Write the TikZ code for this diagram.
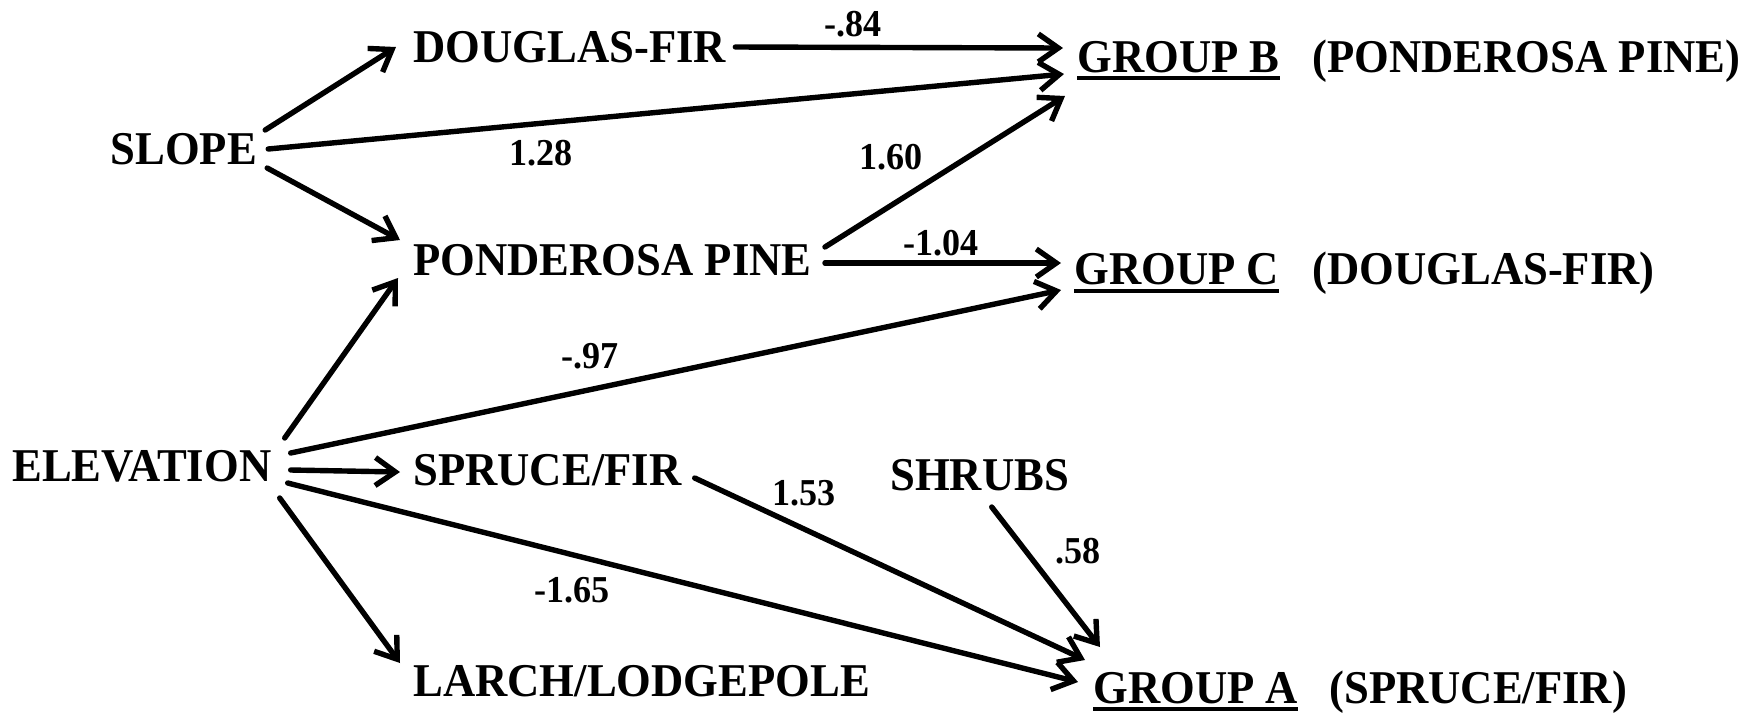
\documentclass[tikz,border=0pt]{standalone}
\usepackage{fontspec}
\setmainfont{Liberation Serif}[FakeStretch=0.95]
\usetikzlibrary{arrows.meta}
\begin{document}
\begin{tikzpicture}[x=0.5pt,y=-0.5pt,
  lbl/.style={font=\fontsize{23.5}{26}\selectfont\bfseries, inner sep=0pt, anchor=west, text height=15.5pt, text depth=0pt},
  num/.style={font=\fontsize{19}{22}\selectfont\bfseries, inner sep=0pt, anchor=center, text height=12.8pt, text depth=0pt},
  conn/.style={line width=2.7pt, line cap=round, line join=round, -{Straight Barb[length=10pt,width=14pt]}},
  ul/.style={line width=1.8pt}]
\useasboundingbox (0,0) rectangle (1762,725);
% variables and groups
\node[lbl] (slope)  at (110,149) {SLOPE};
\node[lbl] (dfir)   at (413,47)  {DOUGLAS-FIR};
\node[lbl] (ppine)  at (413,260) {PONDEROSA PINE};
\node[lbl] (elev)   at (12,466)  {ELEVATION};
\node[lbl] (spruce) at (413,470) {SPRUCE/FIR};
\node[lbl] (larch)  at (413,681) {LARCH/LODGEPOLE};
\node[lbl] (shrubs) at (890,475) {SHRUBS};
\node[lbl] (grpB)   at (1077,57) {GROUP B};
\node[lbl] (grpBt)  at (1312,57) {(PONDEROSA PINE)};
\node[lbl] (grpC)   at (1074,269) {GROUP C};
\node[lbl] (grpCt)  at (1312,269) {(DOUGLAS-FIR)};
\node[lbl] (grpA)   at (1093,688) {GROUP A};
\node[lbl] (grpAt)  at (1329,688) {(SPRUCE/FIR)};
% underlines
\draw[ul] ([shift={(0,21)}]grpB.west) -- ([shift={(0,21)}]grpB.east);
\draw[ul] ([shift={(0,22)}]grpC.west) -- ([shift={(0,22)}]grpC.east);
\draw[ul] ([shift={(0,21)}]grpA.west) -- ([shift={(0,21)}]grpA.east);
% connectors
\draw[conn] ([shift={(8,-19)}]slope.east) -- ([shift={(-17,0)}]dfir.west);
\draw[conn] ([shift={(11,0)}]slope.east) -- ([shift={(-13,17)}]grpB.west);
\draw[conn] ([shift={(10,19)}]slope.east) -- ([shift={(-13,-20)}]ppine.west);
\draw[conn] ([shift={(9,0)}]dfir.east) -- ([shift={(-14,-9)}]grpB.west);
\draw[conn] ([shift={(13,-13)}]ppine.east) -- ([shift={(-12,39)}]grpB.west);
\draw[conn] ([shift={(13,3)}]ppine.east) -- ([shift={(-13,-6)}]grpC.west);
\draw[conn] ([shift={(13,-28)}]elev.east) -- ([shift={(-15,18)}]ppine.west);
\draw[conn] ([shift={(19,-13)}]elev.east) -- ([shift={(-13,21)}]grpC.west);
\draw[conn] ([shift={(19,4)}]elev.east) -- ([shift={(-13,2)}]spruce.west);
\draw[conn] ([shift={(16,17)}]elev.east) -- ([shift={(-15,-6)}]grpA.west);
\draw[conn] ([shift={(8,32)}]elev.east) -- ([shift={(-13,-18)}]larch.west);
\draw[conn] ([shift={(13,8)}]spruce.east) -- ([shift={(-8,-28)}]grpA.west);
\draw[conn] ([shift={(12,32)}]shrubs.center) -- ([shift={(7,-41)}]grpA.west);
% path coefficients
\node[num] (c84)  at (853,24)  {-.84};
\node[num] (c128) at (541,153) {1.28};
\node[num] (c160) at (891,157) {1.60};
\node[num] (c104) at (941,243) {-1.04};
\node[num] (c97)  at (590,356) {-.97};
\node[num] (c153) at (804,493) {1.53};
\node[num] (c165) at (572,590) {-1.65};
\node[num] (c58)  at (1078,551) {.58};
\end{tikzpicture}
\end{document}
